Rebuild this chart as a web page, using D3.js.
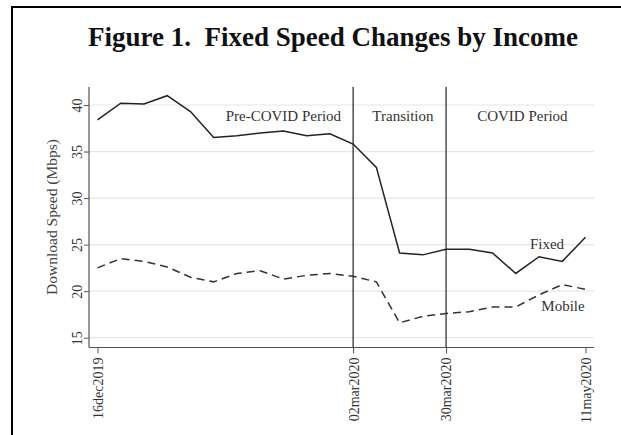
<!DOCTYPE html>
<html>
<head>
<meta charset="utf-8">
<script src="https://cdn.jsdelivr.net/npm/d3@7"></script>
<style>
  body { margin: 0; background: #fff; }
  svg { display: block; }
  text { font-family: "Palatino Linotype", "Book Antiqua", Palatino, "Liberation Serif", serif; }
</style>
</head>
<body>
<svg id="chart"></svg>
<script>
// weekly dates and speeds (Mbps)
const weeks = ["2019-12-16", "2019-12-23", "2019-12-30", "2020-01-06", "2020-01-13", "2020-01-20",
  "2020-01-27", "2020-02-03", "2020-02-10", "2020-02-17", "2020-02-24", "2020-03-02",
  "2020-03-09", "2020-03-16", "2020-03-23", "2020-03-30", "2020-04-06", "2020-04-13",
  "2020-04-20", "2020-04-27", "2020-05-04", "2020-05-11"];
const fixed = [38.4, 40.2, 40.1, 41.0, 39.3, 36.5, 36.7, 37.0, 37.2, 36.7, 36.9, 35.8,
  33.3, 24.1, 23.9, 24.5, 24.5, 24.1, 21.9, 23.7, 23.2, 25.8];
const mobile = [22.5, 23.5, 23.2, 22.6, 21.5, 21.0, 21.9, 22.2, 21.3, 21.7, 21.9, 21.6,
  21.0, 16.6, 17.3, 17.6, 17.8, 18.3, 18.3, 19.6, 20.7, 20.2];
const yTicks = [15, 20, 25, 30, 35, 40];
const xTickDates = ["2019-12-16", "2020-03-02", "2020-03-30", "2020-05-11"];
const breakDates = ["2020-03-02", "2020-03-30"];
const periods = [
  { label: "Pre-COVID Period", at: "2020-02-10" },
  { label: "Transition", at: "2020-03-17" },
  { label: "COVID Period", at: "2020-04-22" }
];

const W = 621, H = 435;
const parse = d3.timeParse("%Y-%m-%d");
const fmt = d3.timeFormat("%d%b%Y");

const svg = d3.select("#chart").attr("width", W).attr("height", H);

// outer frame (right/bottom sides fall outside the picture)
svg.append("rect")
  .attr("x", 12).attr("y", 7)
  .attr("width", W + 20).attr("height", H + 20)
  .attr("fill", "none").attr("stroke", "#000").attr("stroke-width", 2);

svg.append("text")
  .attr("x", 333).attr("y", 46)
  .attr("text-anchor", "middle")
  .attr("font-size", "27px")
  .attr("font-weight", "bold")
  .attr("fill", "#111")
  .attr("xml:space", "preserve")
  .text("Figure 1.  Fixed Speed Changes by Income");

const plotTop = 87, plotBottom = 347.5, plotLeft = 89, plotRight = 594;

const x = d3.scaleTime()
  .domain([parse(weeks[0]), parse(weeks[weeks.length - 1])])
  .range([97.5, 585.5]);
const y = d3.scaleLinear().domain([15, 40]).range([337.7, 105]);

// grid
svg.append("g").selectAll("line")
  .data(yTicks).join("line")
  .attr("x1", plotLeft).attr("x2", plotRight)
  .attr("y1", d => y(d)).attr("y2", d => y(d))
  .attr("stroke", "#e6e6e6").attr("stroke-width", 1.2);

// y axis
const yAxis = d3.axisLeft(y).tickValues(yTicks).tickSize(5).tickSizeOuter(0);
const yg = svg.append("g").attr("transform", `translate(${plotLeft},0)`).call(yAxis);
yg.select(".domain").remove();
yg.append("line").attr("x1", 0).attr("x2", 0).attr("y1", plotTop).attr("y2", plotBottom)
  .attr("stroke", "#555").attr("stroke-width", 1.2);
yg.selectAll(".tick line").attr("stroke", "#555");
yg.selectAll(".tick text")
  .attr("font-size", "14px").attr("fill", "#333")
  .attr("text-anchor", "middle")
  .attr("transform", "rotate(-90) translate(0,-12)")
  .attr("x", 0).attr("y", 0).attr("dy", "0.35em");

// x axis
const xAxis = d3.axisBottom(x).tickValues(xTickDates.map(parse)).tickSize(6).tickSizeOuter(0)
  .tickFormat(d => fmt(d).toLowerCase());
const xg = svg.append("g").attr("transform", `translate(0,${plotBottom})`).call(xAxis);
xg.select(".domain").remove();
xg.append("line").attr("x1", plotLeft).attr("x2", plotRight).attr("y1", 0).attr("y2", 0)
  .attr("stroke", "#555").attr("stroke-width", 1.2);
xg.selectAll(".tick line").attr("stroke", "#555");
xg.selectAll(".tick text")
  .attr("font-size", "14px").attr("fill", "#333")
  .attr("text-anchor", "end")
  .attr("transform", "rotate(-90)")
  .attr("x", -10).attr("y", 0).attr("dy", "0.35em");

// y label
svg.append("text")
  .attr("transform", "translate(57,217) rotate(-90)")
  .attr("text-anchor", "middle")
  .attr("font-size", "15.5px").attr("fill", "#444")
  .text("Download Speed (Mbps)");

// period dividers
svg.append("g").selectAll("line")
  .data(breakDates).join("line")
  .attr("x1", d => x(parse(d))).attr("x2", d => x(parse(d)))
  .attr("y1", plotTop).attr("y2", plotBottom)
  .attr("stroke", "#222").attr("stroke-width", 1.2);

svg.append("g").selectAll("text")
  .data(periods).join("text")
  .attr("x", d => x(parse(d.at)))
  .attr("y", 121)
  .attr("text-anchor", "middle")
  .attr("font-size", "15px").attr("fill", "#333")
  .text(d => d.label);

// lines
const pts = arr => arr.map((v, i) => [parse(weeks[i]), v]);
const line = d3.line().x(d => x(d[0])).y(d => y(d[1]));

svg.append("path").datum(pts(fixed))
  .attr("d", line).attr("fill", "none")
  .attr("stroke", "#222").attr("stroke-width", 1.5);

svg.append("path").datum(pts(mobile))
  .attr("d", line).attr("fill", "none")
  .attr("stroke", "#333").attr("stroke-width", 1.5)
  .attr("stroke-dasharray", "8,5");

svg.append("text").attr("x", 547).attr("y", 249)
  .attr("text-anchor", "middle").attr("font-size", "15px").attr("fill", "#333")
  .text("Fixed");
svg.append("text").attr("x", 563).attr("y", 311)
  .attr("text-anchor", "middle").attr("font-size", "15px").attr("fill", "#333")
  .text("Mobile");
</script>
</body>
</html>
